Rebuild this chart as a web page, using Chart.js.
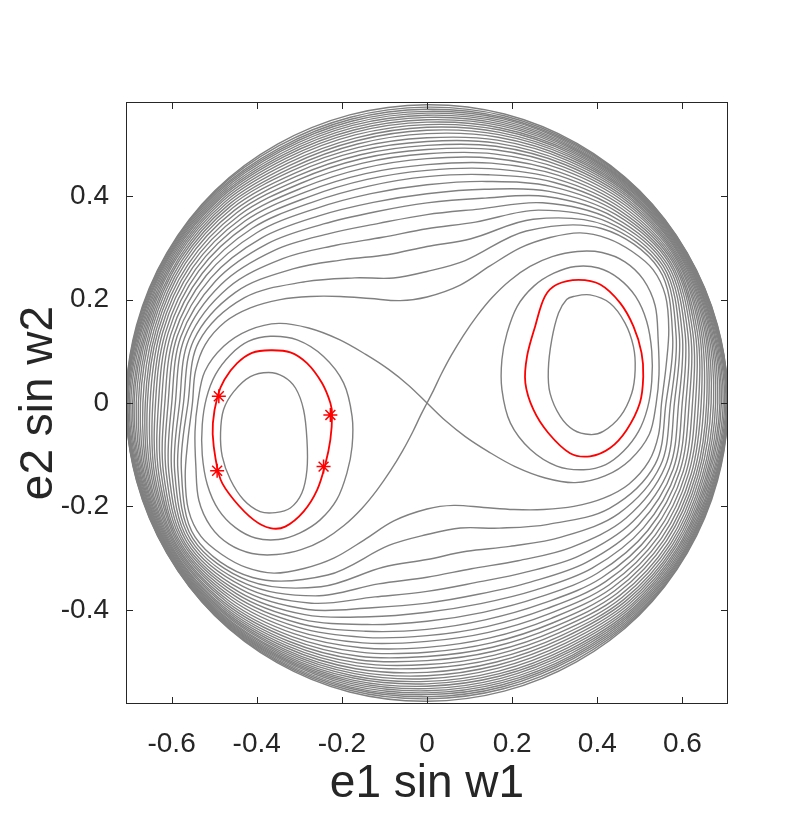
<!DOCTYPE html>
<html>
<head>
<meta charset="utf-8">
<script src="https://cdn.jsdelivr.net/npm/chart.js@4.4.1/dist/chart.umd.min.js"></script>
<style>
  html, body { margin: 0; padding: 0; background: #fff; }
  #wrap { width: 805px; height: 838px; }
</style>
</head>
<body>
<div id="wrap"><canvas id="chart" width="805" height="838"></canvas></div>
<script>
// axes
const X_LIMIT = 0.7071;
const Y_LIMIT = 0.582;
const X_TICKS = [-0.6, -0.4, -0.2, 0, 0.2, 0.4, 0.6];
const Y_TICKS = [-0.4, -0.2, 0, 0.2, 0.4];

// red orbit markers (left island)
const STAR_X = [-0.489, -0.227, -0.243, -0.493];
const STAR_Y = [0.013, -0.023, -0.123, -0.131];

// closed level curves around the two islands, [x, y]
const RED_RIGHT = [[0.356,0.238],[0.407,0.229],[0.454,0.193],[0.485,0.148],[0.504,0.097],[0.508,0.051],[0.500,0.000],[0.469,-0.052],[0.430,-0.087],[0.383,-0.103],[0.336,-0.097],[0.285,-0.058],[0.250,-0.013],[0.231,0.039],[0.235,0.090],[0.254,0.148],[0.277,0.206],[0.305,0.229]];
const RED_LEFT = [[-0.368,0.102],[-0.321,0.098],[-0.282,0.077],[-0.247,0.039],[-0.227,0.000],[-0.223,-0.023],[-0.227,-0.071],[-0.239,-0.119],[-0.258,-0.168],[-0.290,-0.210],[-0.333,-0.239],[-0.368,-0.242],[-0.407,-0.226],[-0.454,-0.187],[-0.485,-0.148],[-0.501,-0.084],[-0.503,-0.039],[-0.492,0.013],[-0.476,0.045],[-0.446,0.077],[-0.411,0.097]];
const INNER_RIGHT = [[0.344,0.206],[0.383,0.209],[0.430,0.193],[0.465,0.155],[0.485,0.109],[0.489,0.064],[0.481,0.019],[0.454,-0.026],[0.414,-0.055],[0.383,-0.061],[0.344,-0.052],[0.313,-0.026],[0.289,0.019],[0.285,0.064],[0.293,0.122],[0.309,0.174],[0.328,0.200]];
const INNER_LEFT = [[-0.372,0.059],[-0.337,0.051],[-0.309,0.029],[-0.290,-0.013],[-0.282,-0.071],[-0.282,-0.129],[-0.294,-0.174],[-0.321,-0.203],[-0.356,-0.212],[-0.392,-0.210],[-0.431,-0.187],[-0.462,-0.148],[-0.481,-0.103],[-0.485,-0.058],[-0.478,-0.013],[-0.454,0.022],[-0.415,0.051]];
const OUTER_LEFT = [[-0.368,0.129],[-0.305,0.122],[-0.243,0.090],[-0.196,0.039],[-0.176,-0.026],[-0.176,-0.084],[-0.188,-0.135],[-0.212,-0.187],[-0.251,-0.226],[-0.298,-0.251],[-0.349,-0.264],[-0.403,-0.261],[-0.450,-0.241],[-0.490,-0.206],[-0.516,-0.158],[-0.528,-0.100],[-0.528,-0.042],[-0.518,0.010],[-0.497,0.055],[-0.462,0.093],[-0.420,0.119]];
const OUTER_RIGHT = [[0.368,-0.129],[0.305,-0.122],[0.243,-0.090],[0.196,-0.039],[0.176,0.026],[0.176,0.084],[0.188,0.135],[0.212,0.187],[0.251,0.226],[0.298,0.251],[0.349,0.264],[0.403,0.261],[0.450,0.241],[0.490,0.206],[0.516,0.158],[0.528,0.100],[0.528,0.042],[0.518,-0.010],[0.497,-0.055],[0.462,-0.093],[0.420,-0.119]];

// figure-eight through the saddle at the origin
const SEPARATRIX = [[0,0],[0.015,0.024],[0.033,0.055],[0.057,0.092],[0.085,0.130],[0.118,0.169],[0.153,0.204],[0.195,0.237],[0.242,0.264],[0.294,0.283],[0.353,0.293],[0.411,0.291],[0.465,0.273],[0.508,0.239],[0.536,0.188],[0.543,0.122],[0.545,0.055],[0.538,-0.003],[0.522,-0.061],[0.477,-0.110],[0.418,-0.141],[0.348,-0.154],[0.278,-0.145],[0.207,-0.123],[0.144,-0.094],[0.090,-0.065],[0.043,-0.034],
  [0,0],[-0.043,0.034],[-0.090,0.065],[-0.144,0.094],[-0.207,0.123],[-0.278,0.145],[-0.348,0.154],[-0.418,0.141],[-0.477,0.110],[-0.522,0.061],[-0.538,0.003],[-0.545,-0.055],[-0.543,-0.122],[-0.536,-0.188],[-0.508,-0.239],[-0.465,-0.273],[-0.411,-0.291],[-0.353,-0.293],[-0.294,-0.283],[-0.242,-0.264],[-0.195,-0.237],[-0.153,-0.204],[-0.118,-0.169],[-0.085,-0.130],[-0.057,-0.092],[-0.033,-0.055],[-0.015,-0.024]];

// first level curve enclosing both lobes
const WAIST = [[-0.551,0.000],[-0.544,0.061],[-0.521,0.113],[-0.474,0.157],[-0.415,0.184],[-0.345,0.200],[-0.274,0.206],[-0.204,0.206],[-0.133,0.202],[-0.063,0.198],[0,0.205],[0.078,0.228],[0.148,0.265],[0.219,0.300],[0.289,0.320],[0.360,0.329],[0.425,0.318],[0.482,0.293],[0.531,0.258],[0.560,0.208],[0.568,0.142],[0.562,0.074],
  [0.551,0.000],[0.544,-0.061],[0.521,-0.113],[0.474,-0.157],[0.415,-0.184],[0.345,-0.200],[0.274,-0.206],[0.204,-0.206],[0.133,-0.202],[0.063,-0.198],[0,-0.205],[-0.078,-0.228],[-0.148,-0.265],[-0.219,-0.300],[-0.289,-0.320],[-0.360,-0.329],[-0.425,-0.318],[-0.482,-0.293],[-0.531,-0.258],[-0.560,-0.208],[-0.568,-0.142],[-0.562,-0.074]];

// outer level curves: relative radius (1 = domain edge) read along rays every 15 degrees
const RAY_ANGLES = [0, 15, 30, 45, 60, 75, 90, 105, 120, 135, 150, 165];
const RHO_000 = [0.794,0.809,0.822,0.836,0.848,0.860,0.871,0.882,0.892,0.902,0.911,0.920,0.929,0.936,0.944,0.952,0.959,0.966,0.973,0.978,0.984,0.989,0.993,0.996,0.9975,0.9985,0.9992,0.9996,0.9999];
const RHO_015 = [0.845,0.857,0.868,0.878,0.888,0.897,0.906,0.914,0.922,0.929,0.936,0.942,0.948,0.954,0.959,0.964,0.969,0.973,0.977,0.981,0.984,0.987,0.990,0.992,0.994,0.996,0.997,0.998,0.999];
const RHO_030 = [0.890,0.899,0.907,0.915,0.922,0.929,0.935,0.941,0.946,0.951,0.956,0.960,0.964,0.968,0.972,0.975,0.978,0.981,0.984,0.986,0.988,0.990,0.992,0.993,0.994,0.995,0.996,0.997,0.998];
const RHO_045 = [0.820,0.836,0.850,0.863,0.875,0.886,0.896,0.905,0.914,0.922,0.930,0.937,0.944,0.950,0.956,0.961,0.966,0.970,0.974,0.978,0.981,0.984,0.987,0.989,0.991,0.993,0.995,0.997,0.998];
const RHO_060 = [0.660,0.705,0.740,0.768,0.792,0.812,0.830,0.846,0.860,0.873,0.885,0.896,0.906,0.915,0.923,0.931,0.938,0.945,0.951,0.957,0.962,0.967,0.972,0.976,0.980,0.984,0.988,0.992,0.996];
const RHO_075 = [0.490,0.565,0.622,0.667,0.704,0.735,0.762,0.785,0.806,0.825,0.842,0.857,0.871,0.883,0.894,0.904,0.914,0.923,0.931,0.939,0.946,0.953,0.959,0.965,0.971,0.977,0.982,0.988,0.994];
const RHO_090 = [0.437,0.520,0.579,0.626,0.665,0.695,0.725,0.752,0.773,0.792,0.812,0.828,0.842,0.856,0.869,0.881,0.895,0.906,0.916,0.925,0.933,0.941,0.949,0.956,0.963,0.969,0.976,0.983,0.991];
const RHO_105 = [0.430,0.510,0.570,0.618,0.658,0.690,0.720,0.746,0.769,0.789,0.808,0.825,0.840,0.854,0.867,0.879,0.891,0.902,0.912,0.922,0.931,0.939,0.947,0.955,0.962,0.969,0.976,0.983,0.991];
const RHO_120 = [0.480,0.550,0.605,0.650,0.687,0.718,0.745,0.769,0.790,0.809,0.826,0.842,0.856,0.869,0.881,0.892,0.902,0.912,0.921,0.930,0.938,0.946,0.953,0.960,0.967,0.973,0.979,0.986,0.993];
const RHO_135 = [0.570,0.630,0.678,0.717,0.749,0.776,0.800,0.821,0.839,0.855,0.869,0.882,0.894,0.905,0.915,0.924,0.932,0.940,0.947,0.954,0.960,0.966,0.971,0.976,0.981,0.986,0.990,0.994,0.997];
const RHO_150 = [0.700,0.735,0.764,0.789,0.811,0.830,0.847,0.862,0.876,0.888,0.899,0.909,0.918,0.927,0.935,0.942,0.949,0.955,0.961,0.966,0.971,0.976,0.980,0.984,0.987,0.990,0.993,0.996,0.998];
const RHO_165 = [0.785,0.803,0.819,0.834,0.847,0.859,0.870,0.881,0.891,0.900,0.909,0.917,0.925,0.932,0.939,0.946,0.952,0.958,0.963,0.968,0.973,0.978,0.982,0.986,0.989,0.992,0.995,0.997,0.999];
const RAYS = [RHO_000, RHO_015, RHO_030, RHO_045, RHO_060, RHO_075, RHO_090, RHO_105, RHO_120, RHO_135, RHO_150, RHO_165];

const GRAY = '#808080';
const RED = '#ff0000';
const INK = '#262626';
const FONT = "'Liberation Sans', Arial, Helvetica, sans-serif";

// the plot is symmetric under (x, y) -> (-x, -y): each ray value is used on both sides
function ringPoints(k) {
  const pts = [];
  [0, 180].forEach(turn => {
    RAY_ANGLES.forEach((deg, j) => {
      const t = (deg + turn) * Math.PI / 180;
      const r = RAYS[j][k];
      pts.push([r * X_LIMIT * Math.cos(t), r * Y_LIMIT * Math.sin(t)]);
    });
  });
  return pts;
}

// wrap the loop so the spline is smooth where it closes; the two extra ends stay hidden
function loopDataset(points, color, width) {
  const n = points.length;
  const wrapped = [points[n - 1], ...points, points[0], points[1]].map(p => ({ x: p[0], y: p[1] }));
  const last = wrapped.length - 1;
  return {
    data: wrapped,
    showLine: true,
    borderColor: color,
    borderWidth: width,
    pointRadius: 0,
    pointHoverRadius: 0,
    tension: 0.34,
    segment: {
      borderColor: ctx => (ctx.p0DataIndex === 0 || ctx.p1DataIndex === last) ? 'rgba(0,0,0,0)' : color,
    },
  };
}

const datasets = [];
RHO_000.forEach((_, k) => datasets.push(loopDataset(ringPoints(k), GRAY, 1.4)));
datasets.push(loopDataset(WAIST, GRAY, 1.4));
datasets.push(loopDataset(SEPARATRIX, GRAY, 1.4));
[OUTER_RIGHT, OUTER_LEFT, INNER_RIGHT, INNER_LEFT].forEach(c => datasets.push(loopDataset(c, GRAY, 1.4)));
[RED_RIGHT, RED_LEFT].forEach(c => datasets.push(loopDataset(c, RED, 1.8)));
datasets.push({
  data: STAR_X.map((x, i) => ({ x, y: STAR_Y[i] })),
  showLine: false,
  pointStyle: 'star',
  pointRadius: 7,
  borderColor: RED,
  backgroundColor: RED,
  borderWidth: 1.5,
});

// box and inward ticks on all four sides
const frame = {
  id: 'frame',
  afterDraw(chart) {
    const { ctx, chartArea: a, scales: { x, y } } = chart;
    const len = 7;
    ctx.save();
    ctx.strokeStyle = INK;
    ctx.lineWidth = 1;
    ctx.beginPath();
    X_TICKS.forEach(v => {
      const px = Math.round(x.getPixelForValue(v)) + 0.5;
      ctx.moveTo(px, a.bottom); ctx.lineTo(px, a.bottom - len);
      ctx.moveTo(px, a.top); ctx.lineTo(px, a.top + len);
    });
    Y_TICKS.forEach(v => {
      const py = Math.round(y.getPixelForValue(v)) + 0.5;
      ctx.moveTo(a.left, py); ctx.lineTo(a.left + len, py);
      ctx.moveTo(a.right, py); ctx.lineTo(a.right - len, py);
    });
    ctx.stroke();
    ctx.strokeRect(a.left + 0.5, a.top + 0.5, a.right - a.left - 1, a.bottom - a.top - 1);
    ctx.restore();
  },
};

const fmt = v => (Math.abs(v) < 1e-9 ? '0' : v.toFixed(1));

new Chart(document.getElementById('chart'), {
  type: 'scatter',
  data: { datasets },
  options: {
    responsive: false,
    animation: false,
    events: [],
    layout: { padding: { left: 0, top: 102, right: 77, bottom: 0 } },
    plugins: { legend: { display: false }, tooltip: { enabled: false } },
    scales: {
      x: {
        type: 'linear',
        min: -X_LIMIT,
        max: X_LIMIT,
        afterBuildTicks: s => { s.ticks = X_TICKS.map(value => ({ value })); },
        afterFit: s => { s.height = 134; },
        grid: { display: false, drawTicks: false },
        border: { display: false },
        ticks: { callback: fmt, color: INK, font: { family: FONT, size: 28 }, padding: 23, maxRotation: 0, autoSkip: false },
        title: { display: true, text: 'e1 sin w1', color: INK, font: { family: FONT, size: 46 }, padding: { top: 0, bottom: 26 } },
      },
      y: {
        type: 'linear',
        min: -Y_LIMIT,
        max: Y_LIMIT,
        afterBuildTicks: s => { s.ticks = Y_TICKS.map(value => ({ value })); },
        afterFit: s => { s.width = 126; },
        grid: { display: false, drawTicks: false },
        border: { display: false },
        ticks: { callback: fmt, color: INK, font: { family: FONT, size: 28 }, padding: 17, autoSkip: false },
        title: { display: true, text: 'e2 sin w2', color: INK, font: { family: FONT, size: 46 }, padding: { top: 12, bottom: 0 } },
      },
    },
  },
  plugins: [frame],
});
</script>
</body>
</html>
